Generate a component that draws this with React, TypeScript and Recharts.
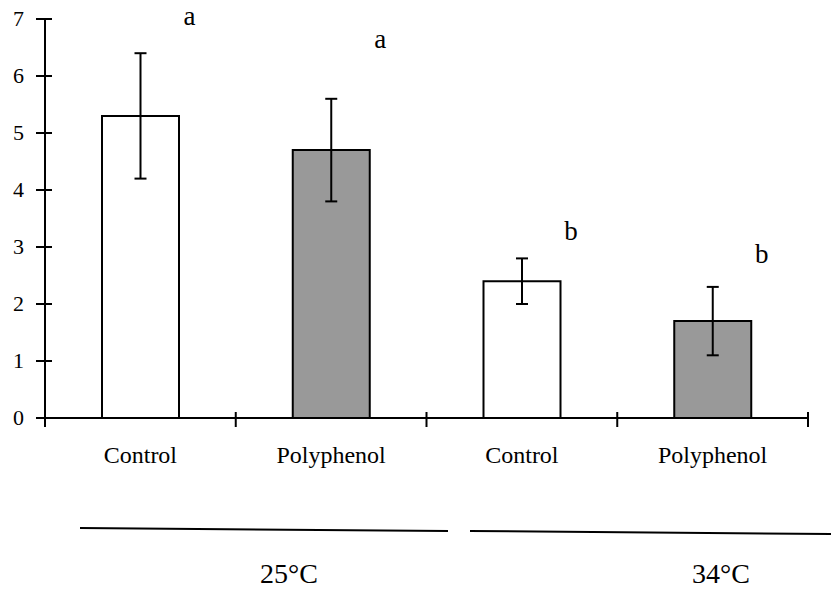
import React from "react";
import {
  ComposedChart, Bar, ErrorBar, Scatter, XAxis, YAxis, Cell,
} from "recharts";

// data
const keys = ["c25", "p25", "c34", "p34"];
const treatments = ["Control", "Polyphenol", "Control", "Polyphenol"];
const means = [5.3, 4.7, 2.4, 1.7];
const errLow = [4.2, 3.8, 2.0, 1.1];
const errHigh = [6.4, 5.6, 2.8, 2.3];
const letters = ["a", "a", "b", "b"];
const letterLevel = [6.9, 6.5, 3.12, 2.72];
const temperatures = ["25°C", "34°C"];
const yTicks = [0, 1, 2, 3, 4, 5, 6, 7];

const W = 831;
const H = 592;
const LEFT = 45;
const RIGHT = 23;
const TOP = 19;
const PLOT_BOTTOM = 418;
const PLOT_W = W - LEFT - RIGHT;
const SERIF = "Liberation Serif";
const fills = ["#ffffff", "#999999", "#ffffff", "#999999"];

const data = keys.map((k, i) => ({
  key: k,
  label: treatments[i],
  mean: means[i],
  err: [means[i] - errLow[i], errHigh[i] - means[i]],
  letter: letters[i],
  letterY: letterLevel[i],
}));

// eslint-disable-next-line @typescript-eslint/no-explicit-any
const YTick = ({ x, y, payload }: any) => (
  <g>
    <line x1={LEFT - 9} x2={LEFT + 7} y1={y} y2={y} stroke="#000" strokeWidth={2} />
    <text x={x} y={y} dy={7} textAnchor="end" fontSize={22} className="serif" fill="#000">
      {payload.value}
    </text>
  </g>
);

// eslint-disable-next-line @typescript-eslint/no-explicit-any
const XTick = ({ x, y, payload, index }: any) => {
  const band = PLOT_W / keys.length;
  const left = x - band / 2;
  const i = keys.indexOf(payload.value);
  return (
    <g>
      <line x1={left} x2={left} y1={y - 6} y2={y + 9} stroke="#000" strokeWidth={2} />
      {index === keys.length - 1 && (
        <line x1={left + band} x2={left + band} y1={y - 6} y2={y + 9} stroke="#000" strokeWidth={2} />
      )}
      <text x={x} y={y + 45} textAnchor="middle" fontSize={24} className="serif" fill="#000">
        {treatments[i]}
      </text>
    </g>
  );
};

// eslint-disable-next-line @typescript-eslint/no-explicit-any
const Letter = ({ cx, cy, payload }: any) => (
  <text x={cx + 49} y={cy} textAnchor="middle" fontSize={27} className="serif" fill="#000">
    {payload.letter}
  </text>
);

export default function App() {
  return (
    <div style={{ position: "relative", width: W, height: H, background: "#fff" }}>
      <style>{`
        body { margin: 0; }
        svg text, svg text.serif, .recharts-wrapper text { font-family: "${SERIF}" !important; }
      `}</style>
      <ComposedChart
        width={W}
        height={H}
        data={data}
        margin={{ top: TOP, right: RIGHT, left: 0, bottom: H - PLOT_BOTTOM - 60 }}
        barCategoryGap={0}
      >
        <XAxis
          dataKey="key"
          height={60}
          axisLine={{ stroke: "#000", strokeWidth: 2 }}
          tickLine={false}
          tickSize={0}
          tickMargin={0}
          interval={0}
          tick={<XTick />}
        />
        <YAxis
          type="number"
          domain={[0, 7]}
          ticks={yTicks}
          width={LEFT}
          axisLine={{ stroke: "#000", strokeWidth: 2 }}
          tickLine={false}
          tickSize={0}
          tickMargin={21}
          interval={0}
          tick={<YTick />}
        />
        <Bar dataKey="mean" barSize={77} stroke="#000" strokeWidth={2} isAnimationActive={false}>
          {data.map((d, i) => (
            <Cell key={d.key} fill={fills[i]} />
          ))}
          <ErrorBar dataKey="err" width={6} stroke="#000" strokeWidth={2} direction="y" />
        </Bar>
        <Scatter dataKey="letterY" shape={<Letter />} isAnimationActive={false} />
      </ComposedChart>

      {/* temperature groups under the axis */}
      <svg width={W} height={H} style={{ position: "absolute", left: 0, top: 0, pointerEvents: "none" }}>
        <line x1={80} y1={528} x2={448} y2={531} stroke="#000" strokeWidth={2} />
        <line x1={470} y1={531} x2={831} y2={534} stroke="#000" strokeWidth={2} />
        <text x={289} y={583} textAnchor="middle" fontSize={28} className="serif" fill="#000">
          {temperatures[0]}
        </text>
        <text x={721} y={583} textAnchor="middle" fontSize={28} className="serif" fill="#000">
          {temperatures[1]}
        </text>
      </svg>
    </div>
  );
}
